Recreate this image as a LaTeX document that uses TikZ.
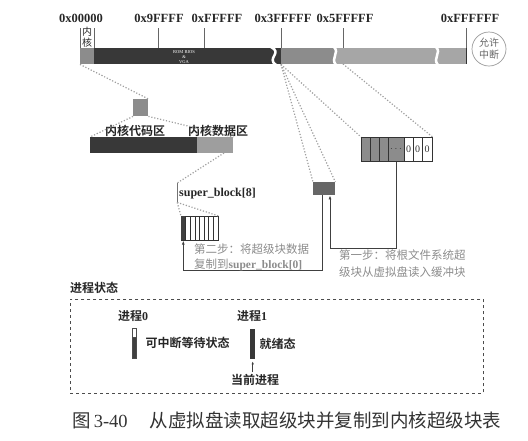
\documentclass[tikz,border=0pt]{standalone}
\usepackage{fontspec}
\setmainfont{Liberation Serif}
\newfontfamily\cjk[BoldFont={Noto Sans CJK SC Bold}]{Noto Sans CJK SC}
\usepackage{tikz}
\usetikzlibrary{positioning, arrows.meta}
\tikzset{
    seg/.style={rectangle, draw=none, inner sep=0pt, anchor=north west},
    hexlabel/.style={font=\bfseries\fontsize{12.5}{12}\selectfont, text=black!85, inner sep=0pt},
    tick/.style={black!60, line width=0.6pt},
    zoomline/.style={gray!75, line width=1.2pt, dash pattern=on 1.2pt off 1.8pt},
    arrow/.style={-{Latex[length=4pt, width=3pt]}, line width=0.8pt, black!75},
    cn/.style={font=\cjk\bfseries\fontsize{12}{14}\selectfont, text=black!85, inner sep=0pt},
    note/.style={font=\cjk\fontsize{11.5}{16}\selectfont, text=black!45, align=left, inner sep=0pt, anchor=north west},
    wave/.style={white, line width=2.5pt},
    cell/.style={draw=black!80, line width=0.6pt}
}

\begin{document}
\begin{tikzpicture}[x=1pt, y=-1pt]
    \useasboundingbox (0,0) rectangle (528,440);

    % memory bar
    \node[seg, fill=black!45, minimum width=14pt, minimum height=16pt] (Kern) at (80,48) {};
    \node[seg, fill=black!78, minimum width=187pt, minimum height=16pt] (LowMem) at (94,48) {};
    \node[seg, fill=black!45, minimum width=54pt, minimum height=16pt] (RamDisk) at (281,48) {};
    \node[seg, fill=black!35, minimum width=131pt, minimum height=16pt] (HighMem) at (335,48) {};
    \draw[black!80, line width=1.5pt] (HighMem.north east) -- (HighMem.south east);

    \draw[wave] (271,47) .. controls (283,53) and (266,58) .. (276,65);
    \draw[wave] (334,47) .. controls (340,53) and (330,58) .. (336,65);
    \draw[wave] (436,47) .. controls (442,53) and (432,58) .. (438,65);

    \foreach \x/\lx/\t in {80/81/0x00000, 158/159/0x9FFFF, 204/217/0xFFFFF,
                           281/283/0x3FFFFF, 343/345/0x5FFFFF, 466/470/0xFFFFFF} {
        \draw[tick] (\x,28) -- (\x,48);
        \node[hexlabel] (Hex\x) at (\lx,18) {\t};
    }
    \draw[tick] (94,28) -- (94,48);
    \node[font=\cjk\fontsize{10}{11}\selectfont, text=black!85, align=center, inner sep=0pt] (KernName) at (87,37) {内\\核};
    \node[font=\fontsize{4.5}{5}\selectfont, text=white, align=center, inner sep=0pt] (RomBios) at (184,57) {ROM BIOS\\\&\\VGA};
    \node[circle, draw=gray!80, line width=0.7pt, minimum size=34pt, inner sep=0pt, align=center,
          font=\cjk\fontsize{10}{12}\selectfont, text=black!60] (IntOn) at (489,49) {允许\\中断};

    % kernel area
    \node[seg, fill=black!45, minimum width=15pt, minimum height=17pt] (KSq) at (133,99) {};
    \draw[zoomline] (Kern.south west) -- (KSq.north east);
    \node[seg, fill=black!78, minimum width=107pt, minimum height=16pt] (KCode) at (90,137) {};
    \node[seg, fill=black!38, minimum width=36pt, minimum height=16pt] (KData) at (197,137) {};
    \node[cn] (KCodeLbl) at (135,131) {内核代码区};
    \node[cn] (KDataLbl) at (218,131) {内核数据区};
    \draw[zoomline] (KSq.south west) -- (KCode.north west);
    \draw[zoomline] (KSq.south east) -- (KData.north east);

    % super_block table
    \coordinate (KDataOut) at (224,153);
    \node[seg, fill=black!55, minimum width=1pt, minimum height=19pt] (SbBar) at (176.5,183) {};
    \node[anchor=west, inner sep=0pt, font=\bfseries\fontsize{12}{12}\selectfont, text=black!85] (SbName) at (179,194) {super\_block[8]};
    \draw[zoomline] (KDataOut) -- (SbBar.north);
    \node[seg, cell, minimum width=37pt, minimum height=24pt] (SbArr) at (181,216) {};
    \fill[black!75] (SbArr.north west) rectangle ++(4.6,24);
    \foreach \i in {1,...,7}
        \draw[cell] ([xshift=\i*4.625pt]SbArr.north west) -- ([xshift=\i*4.625pt]SbArr.south west);
    \draw[zoomline] (SbBar.south) -- (SbArr.north west);
    \draw[zoomline] (SbBar.south) -- (SbArr.north east);

    % buffer and ram disk
    \coordinate (RdEnd) at (343,64);
    \node[seg, fill=black!60, minimum width=22pt, minimum height=13pt] (BufBlk) at (313,182) {};
    \node[seg, cell, minimum width=71pt, minimum height=24pt] (BigArr) at (361,137) {};
    \fill[black!45] (BigArr.north west) rectangle ++(43,24);
    \foreach \o in {9,18,27,43,52,61}
        \draw[cell] ([xshift=\o pt]BigArr.north west) -- ([xshift=\o pt]BigArr.south west);
    \draw[cell] (BigArr.north west) rectangle (BigArr.south east);
    \node[inner sep=0pt, text=black!80] (BigDots) at (396,149) {$\cdots$};
    \foreach \o/\n in {47.5/1, 56.5/2, 66/3}
        \node[inner sep=0pt, font=\fontsize{10}{10}\selectfont, text=black!80] (Zero\n) at ([xshift=\o pt, yshift=-12pt]BigArr.north west) {0};
    \draw[zoomline] (RamDisk.south west) -- (BufBlk.north west);
    \draw[zoomline] (RamDisk.south west) -- (BufBlk.north east);
    \draw[zoomline] (RamDisk.south west) -- (BigArr.north west);
    \draw[zoomline] (RdEnd) -- (BigArr.north east);

    \draw[arrow] (BigArr.south) -- ++(0,87) -| ([xshift=17pt]BufBlk.south west);
    \draw[arrow] ([xshift=9pt]BufBlk.south west) -- ++(0,75) -| ([xshift=2.3pt]SbArr.south west);

    \node[note, font=\cjk\fontsize{11.5}{14.5}\selectfont] (Step2) at (194,244) {第二步：将超级块数据\\复制到{\rmfamily\bfseries super\_block[0]}};
    \node[note, font=\cjk\fontsize{11.5}{16.5}\selectfont] (Step1) at (339,250) {第一步：将根文件系统超\\级块从虚拟盘读入缓冲块};

    % process states
    \node[cn, anchor=west] (PsTitle) at (70,288) {进程状态};
    \node[seg, draw=black!70, dashed, line width=0.7pt, minimum width=413pt, minimum height=94pt] (PsBox) at (70,299) {};
    \node[cn] (P0Name) at (133,316) {进程{\rmfamily 0}};
    \node[seg, draw=black!70, fill=black!75, line width=0.5pt, minimum width=4pt, minimum height=30pt] (P0Bar) at (132,328) {};
    \filldraw[fill=white, draw=black!70, line width=0.5pt] (P0Bar.north west) rectangle ++(4,9);
    \node[cn, right=9pt of P0Bar] (P0State) {可中断等待状态};
    \node[cn] (P1Name) at (252,316) {进程{\rmfamily 1}};
    \node[seg, fill=black!78, minimum width=5pt, minimum height=30pt] (P1Bar) at (250,329) {};
    \node[cn, right=4pt of P1Bar] (P1State) {就绪态};
    \node[cn] (CurLbl) at (255,380) {当前进程};
    \draw[arrow, -{Latex[length=3pt, width=2.5pt]}, shorten >=2pt, shorten <=2pt] (CurLbl.north -| P1Bar.south) -- (P1Bar.south);

    \node[anchor=west, inner sep=0pt, font=\cjk\fontsize{18.5}{20}\selectfont, text=black!80] (Caption) at (72,420) {图\,{\rmfamily 3-40}\hspace{1.2em}从虚拟盘读取超级块并复制到内核超级块表};
\end{tikzpicture}
\end{document}
